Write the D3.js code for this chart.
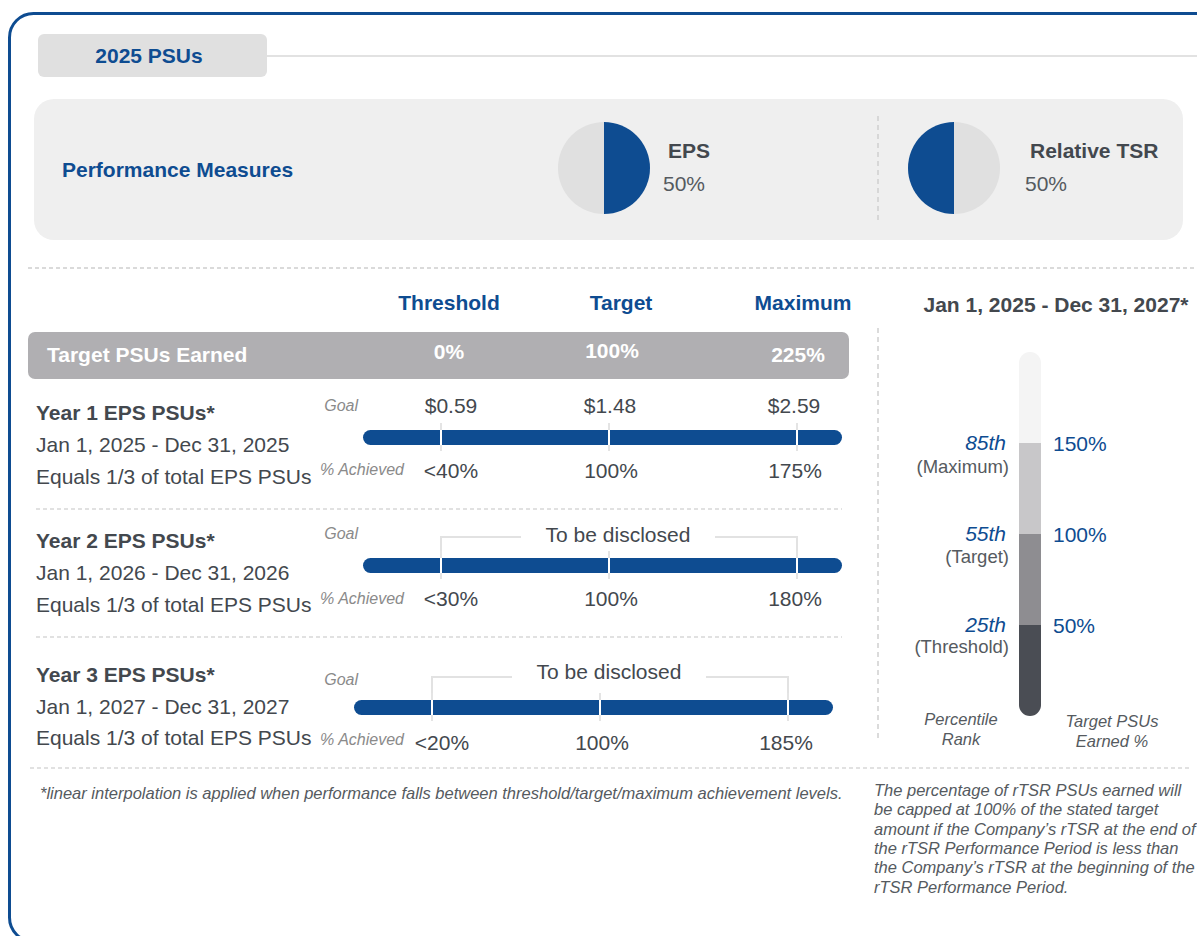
<!DOCTYPE html>
<html>
<head>
<meta charset="utf-8">
<script src="https://cdn.jsdelivr.net/npm/d3@7"></script>
<style>
  body { margin: 0; background: #fff; }
  svg { display: block; font-family: "Liberation Sans", Arial, sans-serif; }
</style>
</head>
<body>
<div id="chart"></div>
<script>
// ---- data ----
var measures = ['EPS', 'Relative TSR'];
var weights = [50, 50];

var columns = ['Threshold', 'Target', 'Maximum'];
var earnedPct = ['0%', '100%', '225%'];

var yearTitles = ['Year 1 EPS PSUs*', 'Year 2 EPS PSUs*', 'Year 3 EPS PSUs*'];
var yearPeriods = ['Jan 1, 2025 - Dec 31, 2025', 'Jan 1, 2026 - Dec 31, 2026', 'Jan 1, 2027 - Dec 31, 2027'];
var yearGoals = [['$0.59', '$1.48', '$2.59'], null, null];
var yearAchieved = [['<40%', '100%', '175%'], ['<30%', '100%', '180%'], ['<20%', '100%', '185%']];

var tsrPeriod = 'Jan 1, 2025 - Dec 31, 2027*';
var tsrPercentiles = [85, 55, 25];
var tsrLevels = ['(Maximum)', '(Target)', '(Threshold)'];
var tsrEarned = ['150%', '100%', '50%'];

var footnote = '*linear interpolation is applied when performance falls between threshold/target/maximum achievement levels.';
var tsrNote = ['The percentage of rTSR PSUs earned will', 'be capped at 100% of the stated target',
  'amount if the Company\u2019s rTSR at the end of', 'the rTSR Performance Period is less than',
  'the Company\u2019s rTSR at the beginning of the', 'rTSR Performance Period.'];

// ---- style ----
var blue = '#0e4c91', dark = '#43484e', mid = '#555a60', grey = '#8a8a8a';
var width = 1197, height = 936;

var svg = d3.select('#chart').append('svg')
  .attr('width', width)
  .attr('height', height);

function txt(g, x, y, s, o) {
  o = o || {};
  return g.append('text')
    .attr('x', x).attr('y', y)
    .attr('dy', '0.35em')
    .attr('text-anchor', o.anchor || 'start')
    .attr('font-size', o.size || 21)
    .attr('font-weight', o.weight || 'normal')
    .attr('font-style', o.style || 'normal')
    .attr('fill', o.fill || dark)
    .text(s);
}

// outer frame
svg.append('rect')
  .attr('x', 9.5).attr('y', 13.5)
  .attr('width', 1240).attr('height', 928)
  .attr('rx', 24)
  .attr('fill', 'none')
  .attr('stroke', blue)
  .attr('stroke-width', 3);

// title tab
svg.append('line')
  .attr('x1', 267).attr('x2', width).attr('y1', 56).attr('y2', 56)
  .attr('stroke', '#e2e2e2').attr('stroke-width', 2);
svg.append('rect')
  .attr('x', 38).attr('y', 34).attr('width', 229).attr('height', 43).attr('rx', 6)
  .attr('fill', '#e0e0e0');
txt(svg, 149, 56, '2025 PSUs', {anchor: 'middle', weight: 'bold', fill: blue});

// performance measures panel
svg.append('rect')
  .attr('x', 34).attr('y', 99).attr('width', 1149).attr('height', 141).attr('rx', 20)
  .attr('fill', '#efefef');
txt(svg, 62, 170, 'Performance Measures', {weight: 'bold', fill: blue});

var pie = d3.pie().sort(null);
var arc = d3.arc().innerRadius(0).outerRadius(46);
var pieX = d3.scaleOrdinal().domain(measures).range([604, 954]);
var labelX = d3.scaleOrdinal().domain(measures).range([665, 1027]);

measures.forEach(function(m, i) {
  var vals = i === 0 ? [weights[i], 100 - weights[i]] : [100 - weights[i], weights[i]];
  var cols = i === 0 ? [blue, '#e0e0e0'] : ['#e0e0e0', blue];
  var g = svg.append('g').attr('transform', 'translate(' + pieX(m) + ',168)');
  g.selectAll('path').data(pie(vals)).enter().append('path')
    .attr('d', arc)
    .attr('fill', function(d, j) { return cols[j]; });
  txt(svg, labelX(m) + 3, 151, m, {weight: 'bold'});
  txt(svg, labelX(m) - 2, 184, weights[i] + '%', {fill: mid});
});

svg.append('line')
  .attr('x1', 878).attr('x2', 878).attr('y1', 116).attr('y2', 222)
  .attr('stroke', '#cfcfcf').attr('stroke-width', 1.5).attr('stroke-dasharray', '5,4');

// section divider
svg.append('line')
  .attr('x1', 28).attr('x2', width).attr('y1', 268).attr('y2', 268)
  .attr('stroke', '#b5b5b5').attr('stroke-width', 1.2).attr('stroke-dasharray', '4,3');

// EPS grid
var colX = d3.scaleOrdinal().domain([0, 1, 2]).range([441, 609, 797]);
var headX = d3.scaleOrdinal().domain(columns).range([449, 621, 803]);
var earnX = d3.scaleOrdinal().domain([0, 1, 2]).range([449, 612, 798]);
var earnY = [352, 351, 355];

columns.forEach(function(c) {
  txt(svg, headX(c), 303, c, {anchor: 'middle', weight: 'bold', fill: blue});
});

svg.append('rect')
  .attr('x', 28).attr('y', 332).attr('width', 821).attr('height', 47).attr('rx', 7)
  .attr('fill', '#b0afb2');
txt(svg, 47, 355, 'Target PSUs Earned', {weight: 'bold', fill: '#fff'});
earnedPct.forEach(function(p, i) {
  txt(svg, earnX(i), earnY[i], p, {anchor: 'middle', weight: 'bold', fill: '#fff'});
});

var rowY = d3.scaleOrdinal().domain([0, 1, 2]).range([0, 128, 262]);
var rowShift = [0, 0, -9];

yearTitles.forEach(function(t, i) {
  var g = svg.append('g').attr('transform', 'translate(0,' + rowY(i) + ')');
  var dx = rowShift[i];
  txt(g, 36, 413, t, {weight: 'bold'});
  txt(g, 36, 445, yearPeriods[i]);
  var eqY = i === 2 ? 476 : 477;
  txt(g, 36, eqY, 'Equals 1/3 of total EPS PSUs');
  txt(g, 358, i === 2 ? 417 : 405, 'Goal', {anchor: 'end', size: 16, style: 'italic', fill: grey});
  txt(g, 404, i === 0 ? 469 : (i === 1 ? 470 : 477), '% Achieved', {anchor: 'end', size: 16, style: 'italic', fill: grey});

  var barY = i === 2 ? 438 : 430;
  // ticks through the bar
  [0, 1, 2].forEach(function(k) {
    g.append('line')
      .attr('x1', colX(k) + dx).attr('x2', colX(k) + dx)
      .attr('y1', barY - 7).attr('y2', barY + 21)
      .attr('stroke', '#e4e4e4').attr('stroke-width', 2);
  });
  g.append('rect')
    .attr('x', 363 + dx).attr('y', barY).attr('width', 479).attr('height', 15).attr('rx', 7.5)
    .attr('fill', blue);
  [0, 1, 2].forEach(function(k) {
    g.append('line')
      .attr('x1', colX(k) + dx).attr('x2', colX(k) + dx)
      .attr('y1', barY).attr('y2', barY + 15)
      .attr('stroke', '#fff').attr('stroke-width', 2);
  });

  if (yearGoals[i]) {
    yearGoals[i].forEach(function(v, k) {
      txt(g, colX(k) + 10 + (k === 2 ? -13 : (k === 1 ? -9 : 0)), 406, v, {anchor: 'middle'});
    });
  } else {
    var by = i === 2 ? 415 : 409;
    var ty = i === 2 ? 410 : 407;
    var xl = colX(0) + dx, xr = colX(2) + dx, xm = (xl + xr) / 2 + 4;
    g.append('path')
      .attr('d', 'M' + xl + ',' + (barY - 7) + 'V' + by + 'H' + (xm - 102))
      .attr('fill', 'none').attr('stroke', '#e2e2e2').attr('stroke-width', 2);
    g.append('path')
      .attr('d', 'M' + (xm + 92) + ',' + by + 'H' + xr + 'V' + (barY - 7))
      .attr('fill', 'none').attr('stroke', '#e2e2e2').attr('stroke-width', 2);
    txt(g, xm - 5, ty, 'To be disclosed', {anchor: 'middle'});
  }

  var ay = i === 2 ? 481 : 471;
  yearAchieved[i].forEach(function(v, k) {
    txt(g, colX(k) + dx + (k === 0 ? 10 : (k === 1 ? 2 : -2)), ay, v, {anchor: 'middle'});
  });

  if (i < 2) {
    g.append('line')
      .attr('x1', 36).attr('x2', 842).attr('y1', 509).attr('y2', 509)
      .attr('stroke', '#c4c4c4').attr('stroke-width', 1.2).attr('stroke-dasharray', '4,3');
  }
});

// bottom divider
svg.append('line')
  .attr('x1', 30).attr('x2', 1190).attr('y1', 768).attr('y2', 768)
  .attr('stroke', '#c4c4c4').attr('stroke-width', 1.2).attr('stroke-dasharray', '4,3');

// rTSR column
svg.append('line')
  .attr('x1', 878).attr('x2', 878).attr('y1', 328).attr('y2', 742)
  .attr('stroke', '#cfcfcf').attr('stroke-width', 1.5).attr('stroke-dasharray', '5,4');
txt(svg, 1056, 305, tsrPeriod, {anchor: 'middle', weight: 'bold'});

var y = d3.scaleLinear().domain([-5, 115]).range([716, 352]);
var bounds = [115].concat(tsrPercentiles).concat([-5]);
var segColors = ['#f4f4f4', '#c8c7c9', '#8e8d91', '#4a4d54'];

var defs = svg.append('defs');
defs.append('clipPath').attr('id', 'tube')
  .append('rect')
  .attr('x', 1019).attr('y', y(115)).attr('width', 22).attr('height', y(-5) - y(115)).attr('rx', 11);

var tube = svg.append('g').attr('clip-path', 'url(#tube)');
tube.selectAll('rect').data(segColors).enter().append('rect')
  .attr('x', 1019)
  .attr('y', function(d, i) { return y(bounds[i]); })
  .attr('width', 22)
  .attr('height', function(d, i) { return y(bounds[i + 1]) - y(bounds[i]); })
  .attr('fill', function(d) { return d; });

tsrPercentiles.forEach(function(p, i) {
  var py = y(p);
  txt(svg, 1006, py, p + 'th', {anchor: 'end', style: 'italic', fill: blue});
  txt(svg, 1009, py + [24, 23, 22][i], tsrLevels[i], {anchor: 'end', size: 18.5, fill: mid});
  txt(svg, 1053, py + 1, tsrEarned[i], {fill: blue});
});

txt(svg, 961, 719, 'Percentile', {anchor: 'middle', size: 16.5, style: 'italic', fill: mid});
txt(svg, 961, 739, 'Rank', {anchor: 'middle', size: 16.5, style: 'italic', fill: mid});
txt(svg, 1112, 721, 'Target PSUs', {anchor: 'middle', size: 16.5, style: 'italic', fill: mid});
txt(svg, 1112, 741, 'Earned %', {anchor: 'middle', size: 16.5, style: 'italic', fill: mid});

// footnotes
txt(svg, 40, 793, footnote, {size: 16.5, style: 'italic', fill: mid});
tsrNote.forEach(function(l, i) {
  txt(svg, 874, 790 + i * 19.4, l, {size: 16.5, style: 'italic', fill: mid});
});
</script>
</body>
</html>
